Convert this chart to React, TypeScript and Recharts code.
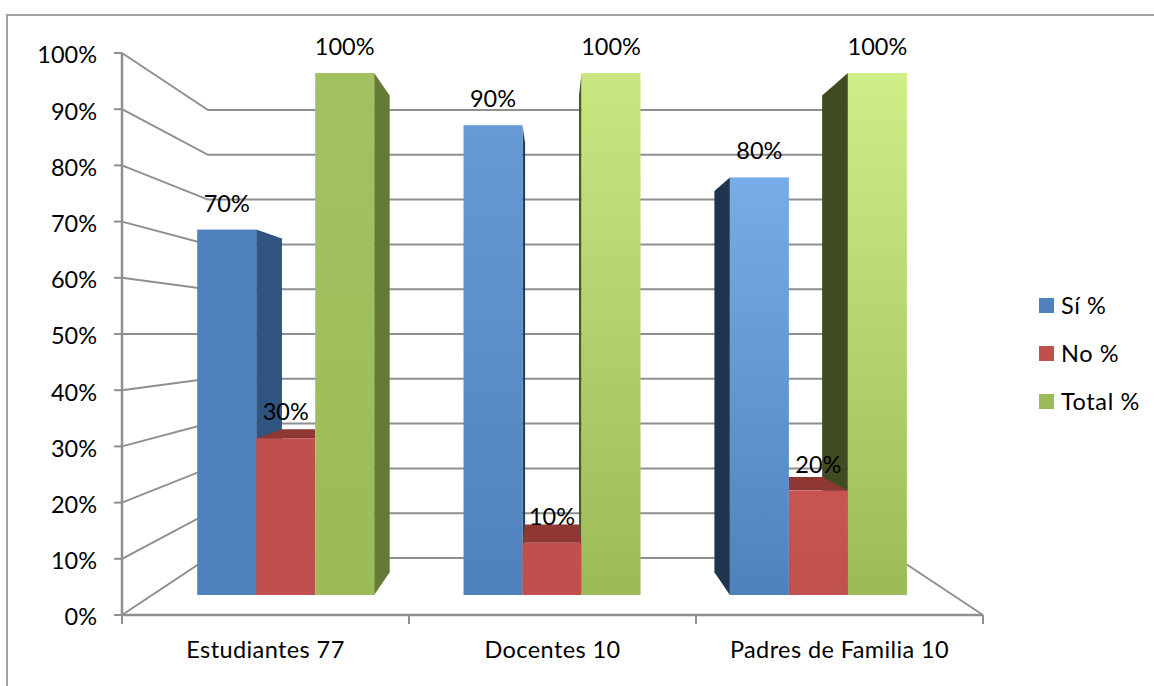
import React from 'react';
import { BarChart, Bar, XAxis, YAxis, Legend, LabelList, Customized } from 'recharts';

const categories = ['Estudiantes 77', 'Docentes 10', 'Padres de Familia 10'];
const siValues = [70, 90, 80];
const noValues = [30, 10, 20];
const totalValues = [100, 100, 100];
const percentTicks = [0, 10, 20, 30, 40, 50, 60, 70, 80, 90, 100];
const seriesNames = ['Sí %', 'No %', 'Total %'];

const chartData = categories.map((name, i) => ({
  name,
  si: siValues[i],
  no: noValues[i],
  total: totalValues[i],
}));

const W = 1154;
const H = 686;
const FONT = 'Lato, "Open Sans", sans-serif';
const FS = 23.5;
const GRID = '#8f8f8f';
const PLOT = { left: 122, top: 53, right: 983, bottom: 615 };
const BACK = { left: 208, right: 897, top: 110, bottom: 558 };
// perspective of the 3-D bars
const VX = 552;
const VY = 333;
const K = 0.087;
// the bars stand on a plane set in from the front edge of the floor
const BAR_DOMAIN: [number, number] = [-3.83, 103.83];

const frontColors: Record<string, { top: string[]; bottom: string[] }> = {
  si: { top: ['#4F81BD', '#6699D6', '#78ABE8'], bottom: ['#4F81BD', '#4F81BD', '#4F81BD'] },
  no: { top: ['#C0504D', '#C0504D', '#C85550'], bottom: ['#C0504D', '#C0504D', '#C0504D'] },
  total: { top: ['#A3C160', '#C9E681', '#CFEE87'], bottom: ['#9BBB59', '#9BBB59', '#9BBB59'] },
};
const sideColors: Record<string, string[]> = {
  si: ['#2F5480', '#253F60', '#1F344F'],
  total: ['#657A36', '#4A5A28', '#414B21'],
};
const redTopColor = '#8E3735';

const backX = (x: number) => x + K * (VX - x);
const backY = (y: number) => y + K * (VY - y);
const pts = (p: number[][]) => p.map((q) => q.join(',')).join(' ');

const sideShape = (key: string) => (props: any) => {
  const { x, y, width, height, index } = props;
  const bottom = y + height;
  const edge = x + width <= VX ? x + width : x;
  const fill = sideColors[key]?.[index];
  if (!fill) return <g />;
  return (
    <polygon
      points={pts([
        [edge, y],
        [backX(edge), backY(y)],
        [backX(edge), backY(bottom)],
        [edge, bottom],
      ])}
      fill={fill}
    />
  );
};

const frontShape = (key: string) => (props: any) => {
  const { x, y, width, height, index } = props;
  const id = `front-${key}-${index}`;
  const right = x + width;
  const by = backY(y);
  return (
    <g>
      <defs>
        <linearGradient id={id} x1="0" y1="0" x2="0" y2="1">
          <stop offset="0%" stopColor={frontColors[key].top[index]} />
          <stop offset="100%" stopColor={frontColors[key].bottom[index]} />
        </linearGradient>
      </defs>
      {key === 'no' && (
        <polygon
          points={pts([
            [x, y],
            [right, y],
            [Math.min(right, backX(right)), by],
            [Math.max(x, backX(x)), by],
          ])}
          fill={redTopColor}
        />
      )}
      <rect x={x} y={y} width={width} height={height} fill={`url(#${id})`} />
    </g>
  );
};

const Scenery = () => {
  const frontY = (v: number) => PLOT.bottom - ((PLOT.bottom - PLOT.top) * v) / 100;
  const wallY = (v: number) => BACK.bottom - ((BACK.bottom - BACK.top) * v) / 100;
  return (
    <g stroke={GRID} strokeWidth={2} fill="none">
      {percentTicks.map((v) => (
        <polyline
          key={v}
          points={pts([
            [PLOT.left, frontY(v)],
            [BACK.left, wallY(v)],
            [BACK.right, wallY(v)],
          ])}
        />
      ))}
      <line x1={BACK.right} y1={BACK.bottom} x2={PLOT.right} y2={PLOT.bottom} />
    </g>
  );
};

const CategoryTick = (props: any) => {
  const { x, payload } = props;
  const half = (PLOT.right - PLOT.left) / categories.length / 2;
  const axisY = PLOT.bottom;
  return (
    <g>
      <line x1={x - half} x2={x - half} y1={axisY} y2={axisY + 9} stroke={GRID} strokeWidth={2} />
      {payload.index === categories.length - 1 && (
        <line x1={x + half} x2={x + half} y1={axisY} y2={axisY + 9} stroke={GRID} strokeWidth={2} />
      )}
      <text
        x={x}
        y={axisY + 34}
        textAnchor="middle"
        dominantBaseline="central"
        fontFamily={FONT}
        fontSize={FS}
        letterSpacing={0.4}
        fill="#000"
      >
        {payload.value}
      </text>
    </g>
  );
};

const LegendContent = (props: any) => {
  const items = seriesNames
    .map((n) => (props.payload || []).find((item: any) => item.value === n))
    .filter(Boolean);
  return (
    <div style={{ fontFamily: FONT, fontSize: FS, letterSpacing: 0.6, color: '#000' }}>
      {items.map((item: any) => (
        <div key={item.value} style={{ display: 'flex', alignItems: 'center', height: 48 }}>
          <span style={{ width: 15, height: 15, background: item.color, marginRight: 7, display: 'inline-block' }} />
          <span>{item.value}</span>
        </div>
      ))}
    </div>
  );
};

const labelProps = {
  position: 'top' as const,
  offset: 18,
  formatter: (v: number) => `${v}%`,
  style: { fontFamily: FONT, fontSize: FS, fill: '#000' },
};

export default function App() {
  return (
    <div style={{ position: 'absolute', left: 0, top: 0, width: W, height: H, overflow: 'hidden', background: '#fff' }}>
      <div
        style={{
          position: 'absolute',
          left: 6,
          top: 14,
          width: W,
          height: H,
          borderLeft: '2px solid #a3a3a3',
          borderTop: '2px solid #a3a3a3',
        }}
      />
      <BarChart
        width={W}
        height={H}
        data={chartData}
        barGap={0}
        barCategoryGap="16.6%"
        margin={{ left: 62, top: PLOT.top, right: W - PLOT.right, bottom: 41 }}
        style={{ position: 'absolute', left: 0, top: 0 }}
      >
        <XAxis
          xAxisId="wall"
          dataKey="name"
          height={30}
          tickLine={false}
          axisLine={{ stroke: GRID, strokeWidth: 2.5 }}
          tick={<CategoryTick />}
          tickMargin={0}
          interval={0}
        />
        <YAxis
          yAxisId="wall"
          type="number"
          width={60}
          domain={[0, 100]}
          ticks={percentTicks}
          interval={0}
          tickFormatter={(v: number) => `${v}%`}
          tickSize={8}
          tickMargin={17}
          tickLine={{ stroke: GRID, strokeWidth: 2 }}
          axisLine={{ stroke: GRID, strokeWidth: 2.5 }}
          tick={{ fontFamily: FONT, fontSize: FS, fill: '#000', dy: 2 }}
        />
        <XAxis xAxisId="sides" orientation="top" dataKey="name" hide padding={{ left: 31, right: 31 }} />
        <XAxis xAxisId="fronts" orientation="top" dataKey="name" hide padding={{ left: 31, right: 31 }} />
        <YAxis yAxisId="bars" orientation="right" type="number" hide domain={BAR_DOMAIN} />

        <Customized component={Scenery} />

        {/* anchors the visible axes to the data; draws nothing itself */}
        <Bar xAxisId="wall" yAxisId="wall" dataKey="total" legendType="none" isAnimationActive={false} shape={() => <g />} />

        <Bar xAxisId="sides" yAxisId="bars" dataKey="si" legendType="none" isAnimationActive={false} shape={sideShape('si')} />
        <Bar xAxisId="sides" yAxisId="bars" dataKey="no" legendType="none" isAnimationActive={false} shape={sideShape('no')} />
        <Bar xAxisId="sides" yAxisId="bars" dataKey="total" legendType="none" isAnimationActive={false} shape={sideShape('total')} />

        <Bar xAxisId="fronts" yAxisId="bars" dataKey="si" name={seriesNames[0]} fill="#4F81BD" isAnimationActive={false} shape={frontShape('si')}>
          <LabelList dataKey="si" {...labelProps} />
        </Bar>
        <Bar xAxisId="fronts" yAxisId="bars" dataKey="no" name={seriesNames[1]} fill="#C0504D" isAnimationActive={false} shape={frontShape('no')}>
          <LabelList dataKey="no" {...labelProps} />
        </Bar>
        <Bar xAxisId="fronts" yAxisId="bars" dataKey="total" name={seriesNames[2]} fill="#9BBB59" isAnimationActive={false} shape={frontShape('total')}>
          <LabelList dataKey="total" {...labelProps} />
        </Bar>

        <Legend
          layout="vertical"
          align="center"
          verticalAlign="middle"
          content={<LegendContent />}
          wrapperStyle={{ position: 'absolute', left: 1039, top: 281, width: 115 }}
        />
      </BarChart>
    </div>
  );
}
